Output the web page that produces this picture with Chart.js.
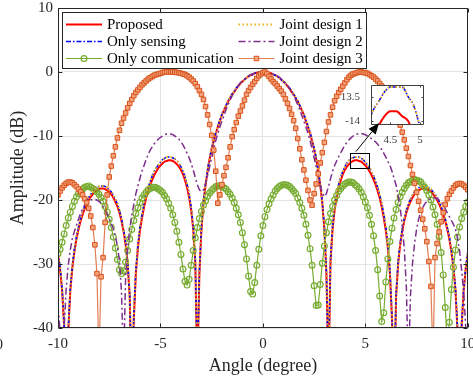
<!DOCTYPE html>
<html lang="en">
<head>
  <meta charset="UTF-8">
  <meta name="viewport" content="width=device-width, initial-scale=1.0">
  <title>Beampattern comparison</title>
  <style>
    body {
      margin: 0;
      background: #fff;
    }

    .wrap {
      position: relative;
      width: 473px;
      height: 381px;
      overflow: hidden;
    }

    #main {
      position: absolute;
      left: 0;
      top: 0;
    }

    /* zoomed inset sits over the main plot */
    #inset {
      position: absolute;
      left: 340px;
      top: 78px;
    }
  </style>
</head>
<body>
  <div class="wrap">
    <canvas id="main" width="473" height="381"></canvas>
    <canvas id="inset" width="90" height="80"></canvas>
  </div>

  <script src="https://cdn.jsdelivr.net/npm/chart.js@4"></script>

  <script>
    // angle grid (degree)
    const angles = [
      -10, -9.9, -9.8, -9.7, -9.6, -9.5, -9.4, -9.3, -9.2, -9.1,
      -9, -8.9, -8.8, -8.7, -8.6, -8.5, -8.4, -8.3, -8.2, -8.1,
      -8, -7.9, -7.8, -7.7, -7.6, -7.5, -7.4, -7.3, -7.2, -7.1,
      -7, -6.9, -6.8, -6.7, -6.6, -6.5, -6.4, -6.3, -6.2, -6.1,
      -6, -5.9, -5.8, -5.7, -5.6, -5.5, -5.4, -5.3, -5.2, -5.1,
      -5, -4.9, -4.8, -4.7, -4.6, -4.5, -4.4, -4.3, -4.2, -4.1,
      -4, -3.9, -3.8, -3.7, -3.6, -3.5, -3.4, -3.3, -3.2, -3.1,
      -3, -2.9, -2.8, -2.7, -2.6, -2.5, -2.4, -2.3, -2.2, -2.1,
      -2, -1.9, -1.8, -1.7, -1.6, -1.5, -1.4, -1.3, -1.2, -1.1,
      -1, -0.9, -0.8, -0.7, -0.6, -0.5, -0.4, -0.3, -0.2, -0.1,
      0, 0.1, 0.2, 0.3, 0.4, 0.5, 0.6, 0.7, 0.8, 0.9,
      1, 1.1, 1.2, 1.3, 1.4, 1.5, 1.6, 1.7, 1.8, 1.9,
      2, 2.1, 2.2, 2.3, 2.4, 2.5, 2.6, 2.7, 2.8, 2.9,
      3, 3.1, 3.2, 3.3, 3.4, 3.5, 3.6, 3.7, 3.8, 3.9,
      4, 4.1, 4.2, 4.3, 4.4, 4.5, 4.6, 4.7, 4.8, 4.9,
      5, 5.1, 5.2, 5.3, 5.4, 5.5, 5.6, 5.7, 5.8, 5.9,
      6, 6.1, 6.2, 6.3, 6.4, 6.5, 6.6, 6.7, 6.8, 6.9,
      7, 7.1, 7.2, 7.3, 7.4, 7.5, 7.6, 7.7, 7.8, 7.9,
      8, 8.1, 8.2, 8.3, 8.4, 8.5, 8.6, 8.7, 8.8, 8.9,
      9, 9.1, 9.2, 9.3, 9.4, 9.5, 9.6, 9.7, 9.8, 9.9, 10
    ];

    // amplitude (dB), one value per angle
    const proposed = [
      -28.5, -30.8, -34.1, -39.7, -60.0, -40.6, -34.2, -30.6, -28.1, -26.1,
      -24.6, -23.3, -22.3, -21.4, -20.6, -20.0, -19.5, -19.1, -18.7, -18.5,
      -18.3, -18.2, -18.2, -18.3, -18.5, -18.8, -19.1, -19.6, -20.3, -21.0,
      -22.0, -23.3, -24.9, -27.0, -30.0, -35.1, -51.0, -38.7, -31.5, -27.5,
      -24.8, -22.8, -21.1, -19.7, -18.6, -17.6, -16.8, -16.1, -15.5, -15.0,
      -14.6, -14.3, -14.0, -13.9, -13.8, -13.8, -13.9, -14.1, -14.4, -14.8,
      -15.3, -16.0, -16.9, -18.1, -19.6, -21.6, -24.6, -29.7, -47.0, -31.6,
      -24.6, -20.5, -17.7, -15.5, -13.6, -12.1, -10.8, -9.6, -8.6, -7.7,
      -6.7, -6.0, -5.3, -4.6, -4.1, -3.5, -3.1, -2.6, -2.2, -1.8,
      -1.5, -1.2, -0.9, -0.7, -0.5, -0.4, -0.2, -0.1, -0.1, 0.0,
      0.0, 0.0, -0.1, -0.1, -0.2, -0.4, -0.5, -0.7, -0.9, -1.2,
      -1.5, -1.8, -2.2, -2.6, -3.1, -3.5, -4.1, -4.6, -5.3, -6.0,
      -6.7, -7.7, -8.6, -9.6, -10.8, -12.1, -13.6, -15.5, -17.7, -20.5,
      -24.6, -31.6, -47.0, -29.7, -24.6, -21.6, -19.6, -18.1, -16.9, -16.0,
      -15.3, -14.8, -14.4, -14.1, -13.9, -13.8, -13.8, -13.9, -14.0, -14.3,
      -14.6, -15.0, -15.5, -16.1, -16.8, -17.6, -18.6, -19.7, -21.1, -22.8,
      -24.8, -27.5, -31.5, -38.7, -51.0, -35.1, -30.0, -27.0, -24.9, -23.3,
      -22.0, -21.0, -20.3, -19.6, -19.1, -18.8, -18.5, -18.3, -18.2, -18.2,
      -18.3, -18.5, -18.7, -19.1, -19.5, -20.0, -20.6, -21.4, -22.3, -23.3,
      -24.6, -26.1, -28.1, -30.6, -34.2, -40.6, -60.0, -39.7, -34.1, -30.8, -28.5
    ];

    const onlySensing = [
      -28.1, -30.4, -33.7, -39.3, -60.0, -40.2, -33.8, -30.2, -27.7, -25.7,
      -24.2, -22.9, -21.9, -21.0, -20.2, -19.6, -19.1, -18.7, -18.3, -18.1,
      -17.9, -17.8, -17.8, -17.9, -18.1, -18.4, -18.7, -19.2, -19.9, -20.6,
      -21.6, -22.9, -24.5, -26.6, -29.6, -34.7, -50.0, -38.0, -30.9, -26.9,
      -24.2, -22.2, -20.5, -19.2, -18.0, -17.1, -16.2, -15.5, -15.0, -14.5,
      -14.1, -13.7, -13.5, -13.3, -13.3, -13.3, -13.4, -13.6, -13.8, -14.2,
      -14.8, -15.5, -16.4, -17.5, -19.0, -21.1, -24.0, -29.2, -46.4, -31.3,
      -24.3, -20.3, -17.5, -15.3, -13.4, -11.9, -10.6, -9.4, -8.4, -7.5,
      -6.6, -5.9, -5.2, -4.5, -4.0, -3.4, -3.0, -2.5, -2.1, -1.8,
      -1.5, -1.2, -0.9, -0.7, -0.5, -0.4, -0.2, -0.1, -0.1, 0.0,
      0.0, 0.0, -0.1, -0.1, -0.2, -0.4, -0.5, -0.7, -0.9, -1.2,
      -1.5, -1.8, -2.1, -2.5, -3.0, -3.4, -4.0, -4.5, -5.2, -5.9,
      -6.6, -7.5, -8.4, -9.4, -10.6, -11.9, -13.4, -15.3, -17.5, -20.3,
      -24.3, -31.3, -46.4, -29.2, -24.0, -21.1, -19.0, -17.5, -16.4, -15.5,
      -14.8, -14.2, -13.8, -13.6, -13.4, -13.3, -13.3, -13.3, -13.5, -13.7,
      -14.1, -14.5, -15.0, -15.5, -16.2, -17.1, -18.0, -19.2, -20.5, -22.2,
      -24.2, -26.9, -30.9, -38.0, -50.0, -34.7, -29.6, -26.6, -24.5, -22.9,
      -21.6, -20.6, -19.9, -19.2, -18.7, -18.4, -18.1, -17.9, -17.8, -17.8,
      -17.9, -18.1, -18.3, -18.7, -19.1, -19.6, -20.2, -21.0, -21.9, -22.9,
      -24.2, -25.7, -27.7, -30.2, -33.8, -40.2, -60.0, -39.3, -33.7, -30.4, -28.1
    ];

    const onlyCommunication = [
      -28.4, -27.7, -26.6, -25.3, -24.0, -22.8, -21.9, -21.0, -20.2, -19.5,
      -19.0, -18.6, -18.3, -18.0, -17.9, -17.8, -18.0, -18.2, -18.4, -18.7,
      -19.1, -19.6, -20.2, -21.0, -21.9, -23.0, -24.3, -25.8, -27.5, -29.3,
      -30.9, -31.5, -31.1, -29.7, -27.9, -26.1, -24.6, -23.2, -22.1, -21.2,
      -20.4, -19.7, -19.2, -18.8, -18.4, -18.2, -18.0, -18.0, -18.1, -18.3,
      -18.5, -18.8, -19.3, -19.8, -20.5, -21.3, -22.3, -23.5, -24.9, -26.6,
      -28.5, -30.8, -32.7, -33.3, -32.4, -30.2, -27.9, -25.9, -24.3, -22.9,
      -21.8, -20.8, -20.1, -19.4, -18.9, -18.5, -18.2, -17.9, -17.8, -17.8,
      -17.9, -18.1, -18.3, -18.7, -19.1, -19.7, -20.4, -21.3, -22.3, -23.5,
      -25.1, -27.0, -29.2, -31.9, -34.3, -34.7, -32.9, -30.2, -27.7, -25.6,
      -24.0, -22.6, -21.5, -20.6, -19.8, -19.2, -18.6, -18.2, -17.9, -17.7,
      -17.6, -17.6, -17.7, -17.9, -18.2, -18.6, -19.0, -19.7, -20.4, -21.3,
      -22.4, -23.8, -25.5, -27.6, -30.2, -33.4, -36.5, -36.4, -33.2, -29.9,
      -27.2, -25.1, -23.4, -22.1, -21.0, -20.0, -19.3, -18.6, -18.2, -17.8,
      -17.5, -17.3, -17.2, -17.2, -17.3, -17.6, -17.9, -18.3, -18.8, -19.5,
      -20.3, -21.2, -22.4, -23.8, -25.6, -27.9, -30.9, -35.0, -39.0, -37.6,
      -32.8, -29.2, -26.5, -24.4, -22.8, -21.5, -20.4, -19.5, -18.8, -18.2,
      -17.7, -17.3, -17.1, -16.9, -16.8, -16.9, -17.0, -17.2, -17.6, -18.0,
      -18.5, -19.2, -20.0, -21.1, -22.3, -23.8, -25.7, -28.2, -31.7, -36.8,
      -42.5, -39.1, -34.0, -30.5, -27.8, -25.8, -24.2, -22.9, -21.9, -21.0, -20.3
    ];

    const jointDesign1 = [
      -28.1, -30.4, -33.7, -39.3, -60.0, -40.2, -33.8, -30.2, -27.7, -25.7,
      -24.2, -22.9, -21.9, -21.0, -20.2, -19.6, -19.1, -18.7, -18.3, -18.1,
      -17.9, -17.8, -17.8, -17.9, -18.1, -18.4, -18.7, -19.2, -19.9, -20.6,
      -21.6, -22.9, -24.5, -26.6, -29.6, -34.7, -50.0, -38.0, -30.9, -26.9,
      -24.2, -22.2, -20.5, -19.2, -18.0, -17.1, -16.2, -15.5, -15.0, -14.5,
      -14.1, -13.7, -13.5, -13.3, -13.3, -13.3, -13.4, -13.6, -13.8, -14.2,
      -14.8, -15.5, -16.4, -17.5, -19.0, -21.1, -24.0, -29.2, -46.4, -31.3,
      -24.3, -20.3, -17.5, -15.3, -13.4, -11.9, -10.6, -9.4, -8.4, -7.5,
      -6.6, -5.9, -5.2, -4.5, -4.0, -3.4, -3.0, -2.5, -2.1, -1.8,
      -1.5, -1.2, -0.9, -0.7, -0.5, -0.4, -0.2, -0.1, -0.1, 0.0,
      0.0, 0.0, -0.1, -0.1, -0.2, -0.4, -0.5, -0.7, -0.9, -1.2,
      -1.5, -1.8, -2.1, -2.5, -3.0, -3.4, -4.0, -4.5, -5.2, -5.9,
      -6.6, -7.5, -8.4, -9.4, -10.6, -11.9, -13.4, -15.3, -17.5, -20.3,
      -24.3, -31.3, -46.4, -29.2, -24.0, -21.1, -19.0, -17.5, -16.4, -15.5,
      -14.8, -14.2, -13.8, -13.6, -13.4, -13.3, -13.3, -13.3, -13.5, -13.7,
      -14.1, -14.5, -15.0, -15.5, -16.2, -17.1, -18.0, -19.2, -20.5, -22.2,
      -24.2, -26.9, -30.9, -38.0, -50.0, -34.7, -29.6, -26.6, -24.5, -22.9,
      -21.6, -20.6, -19.9, -19.2, -18.7, -18.4, -18.1, -17.9, -17.8, -17.8,
      -17.9, -18.1, -18.3, -18.7, -19.1, -19.6, -20.2, -21.0, -21.9, -22.9,
      -24.2, -25.7, -27.7, -30.2, -33.8, -40.2, -60.0, -39.3, -33.7, -30.4, -28.1
    ];

    const jointDesign2 = [
      -36.5, -40.5, -45.0, -40.0, -33.8, -30.2, -27.8, -26.0, -24.9, -24.0,
      -23.0, -22.1, -21.4, -20.8, -20.4, -20.2, -20.0, -19.9, -19.9, -20.0,
      -20.2, -20.5, -21.0, -21.6, -22.2, -22.9, -23.7, -24.5, -25.6, -27.2,
      -29.5, -34.5, -46.0, -32.0, -27.5, -24.6, -22.4, -20.7, -19.0, -17.8,
      -16.6, -15.5, -14.6, -13.7, -12.9, -12.2, -11.7, -11.2, -10.8, -10.5,
      -10.2, -10.0, -9.8, -9.7, -9.7, -9.7, -9.8, -10.0, -10.2, -10.5,
      -10.9, -11.4, -12.0, -12.7, -13.4, -14.3, -15.3, -16.5, -17.6, -18.4,
      -18.7, -18.4, -17.5, -16.2, -14.8, -13.4, -12.0, -10.7, -9.6, -8.6,
      -7.7, -6.8, -5.9, -5.1, -4.4, -3.7, -3.1, -2.6, -2.1, -1.7,
      -1.4, -1.1, -0.8, -0.6, -0.4, -0.3, -0.2, -0.1, 0.0, 0.0,
      0.0, 0.0, 0.0, -0.1, -0.2, -0.3, -0.4, -0.6, -0.8, -1.1,
      -1.4, -1.7, -2.1, -2.6, -3.1, -3.7, -4.4, -5.1, -5.9, -6.8,
      -7.7, -8.6, -9.6, -10.7, -12.0, -13.4, -14.8, -16.3, -17.7, -18.9,
      -19.5, -19.0, -17.9, -16.7, -15.5, -14.6, -13.9, -13.2, -12.6, -12.0,
      -11.4, -11.0, -10.6, -10.3, -10.0, -9.8, -9.7, -9.6, -9.6, -9.7,
      -9.8, -10.0, -10.2, -10.4, -10.7, -10.9, -11.3, -11.7, -12.1, -12.7,
      -13.3, -14.0, -14.6, -15.5, -16.6, -17.7, -19.3, -21.2, -24.0, -27.6,
      -33.5, -47.0, -35.0, -30.0, -26.8, -24.6, -23.0, -22.0, -21.2, -20.6,
      -20.2, -19.9, -19.8, -19.7, -19.7, -19.8, -20.0, -20.3, -20.8, -21.4,
      -22.0, -22.6, -23.2, -23.8, -24.6, -26.0, -28.0, -31.0, -34.5, -40.0, -47.0
    ];

    const jointDesign3 = [
      -19.2, -18.6, -18.1, -17.7, -17.4, -17.2, -17.2, -17.3, -17.6, -17.9,
      -18.3, -18.7, -19.2, -19.8, -20.4, -21.3, -22.5, -24.3, -27.0, -31.5,
      -45.0, -32.0, -29.0, -23.5, -19.2, -16.4, -14.7, -13.1, -11.7, -10.3,
      -9.1, -8.0, -7.2, -6.4, -5.6, -4.9, -4.3, -3.7, -3.2, -2.8,
      -2.4, -2.0, -1.7, -1.4, -1.1, -0.9, -0.7, -0.5, -0.4, -0.3,
      -0.2, -0.1, 0.0, 0.0, 0.0, 0.0, 0.0, 0.0, -0.1, -0.1,
      -0.2, -0.3, -0.4, -0.6, -0.8, -1.1, -1.4, -1.8, -2.3, -2.9,
      -3.5, -4.3, -5.4, -6.7, -8.2, -9.9, -12.2, -15.5, -20.5, -19.2,
      -17.6, -16.2, -14.9, -13.4, -11.7, -10.1, -9.0, -7.9, -6.9, -6.1,
      -5.3, -4.4, -3.5, -2.9, -2.4, -1.9, -1.5, -1.0, -0.6, -0.3,
      -0.1, 0.0, -0.3, -0.7, -1.1, -1.5, -1.8, -2.2, -2.6, -3.0,
      -3.5, -4.2, -4.9, -5.7, -6.6, -7.6, -8.8, -10.4, -12.0, -13.7,
      -15.3, -16.9, -18.5, -20.0, -20.8, -19.0, -17.5, -15.9, -14.2, -12.6,
      -11.0, -9.3, -7.8, -6.7, -5.5, -4.5, -3.8, -3.2, -2.7, -2.2,
      -1.7, -1.2, -0.8, -0.5, -0.3, -0.2, -0.1, 0.0, 0.0, -0.1,
      -0.1, -0.2, -0.4, -0.6, -0.8, -1.1, -1.4, -1.8, -2.2, -2.7,
      -3.2, -3.7, -4.3, -4.9, -5.6, -6.4, -7.3, -8.3, -9.4, -10.6,
      -11.9, -13.2, -14.6, -16.0, -17.4, -18.8, -20.2, -21.6, -23.0, -24.5,
      -26.5, -29.6, -33.5, -45.0, -29.0, -26.8, -25.0, -23.4, -22.0, -20.7,
      -19.8, -19.1, -18.6, -18.1, -17.7, -17.5, -17.4, -17.5, -17.7, -18.0, -18.4
    ];

    const seriesNames = ['Proposed', 'Only sensing', 'Only communication', 'Joint design 1', 'Joint design 2', 'Joint design 3'];
    const seriesValues = [proposed, onlySensing, onlyCommunication, jointDesign1, jointDesign2, jointDesign3];

    const xTicksMain = { min: -10, max: 10, step: 5 };
    const yTicksMain = { min: -40, max: 10, step: 10 };
    const insetXTicks = [4.5, 5];
    const insetYTicks = [-14, -13.5];

    // annotation geometry in data units of the main axes
    const zoomRect = { x: [4.24, 5.18], y: [-12.6, -15.05] };
    const zoomArrow = { from: [4.535, -12.45], to: [5.67, -7.97] };

    const serif = '"Liberation Serif", "Times New Roman", serif';
    const axisColor = '#262626';

    // look of each curve (MATLAB-like)
    const seriesStyle = {
      'Proposed': { borderColor: '#ff0000', borderWidth: 2, borderDash: [], order: 6 },
      'Only sensing': { borderColor: '#0000ff', borderWidth: 1.5, borderDash: [5, 2, 1.5, 2], order: 5 },
      'Only communication': {
        borderColor: '#77ac30', borderWidth: 1.2, borderDash: [],
        pointStyle: 'circle', pointRadius: 2.9, pointBorderWidth: 1.2,
        pointBackgroundColor: 'rgba(255,255,255,0)', pointBorderColor: '#77ac30', order: 4
      },
      'Joint design 1': { borderColor: '#edb120', borderWidth: 2, borderDash: [1.5, 2.5], order: 3 },
      'Joint design 2': { borderColor: '#7e2f8e', borderWidth: 1.5, borderDash: [7, 3, 2, 3], order: 2 },
      'Joint design 3': {
        borderColor: 'rgba(217,83,25,0.75)', borderWidth: 1.2, borderDash: [],
        pointStyle: 'rect', pointRadius: 3.2, pointBorderWidth: 1,
        pointBackgroundColor: '#f2a27e', pointBorderColor: '#d95319', order: 1
      }
    };

    function makeDatasets(smooth) {
      return seriesNames.map((name, i) => Object.assign({
        label: name,
        data: seriesValues[i],
        fill: false,
        pointRadius: 0,
        tension: 0,
        cubicInterpolationMode: smooth ? 'monotone' : 'default'
      }, seriesStyle[name]));
    }

    // box round the plot area with inward ticks on all four sides
    const frame = {
      id: 'frame',
      beforeDraw(chart, args, opts) {
        if (!opts.fill) return;
        const a = chart.chartArea;
        const ctx = chart.ctx;
        ctx.save();
        ctx.fillStyle = opts.fill;
        ctx.fillRect(a.left, a.top, a.right - a.left, a.bottom - a.top);
        ctx.restore();
      },
      afterDatasetsDraw(chart, args, opts) {
        const { ctx, chartArea: a, scales: { x, y } } = chart;
        const L = Math.round(a.left) + 0.5;
        const R = Math.round(a.right) - 0.5;
        const T = Math.round(a.top) + 0.5;
        const B = Math.round(a.bottom) - 0.5;
        const len = opts.tick;
        ctx.save();
        ctx.strokeStyle = opts.color;
        ctx.lineWidth = 1;
        ctx.beginPath();
        ctx.rect(L, T, R - L, B - T);
        x.ticks.forEach(t => {
          const px = Math.round(x.getPixelForValue(t.value)) + 0.5;
          ctx.moveTo(px, B); ctx.lineTo(px, B - len);
          ctx.moveTo(px, T); ctx.lineTo(px, T + len);
        });
        y.ticks.forEach(t => {
          const py = Math.round(y.getPixelForValue(t.value)) + 0.5;
          ctx.moveTo(L, py); ctx.lineTo(L + len, py);
          ctx.moveTo(R, py); ctx.lineTo(R - len, py);
        });
        ctx.stroke();
        ctx.restore();
      }
    };

    // zoom rectangle on the main plot
    const zoomBox = {
      id: 'zoomBox',
      afterDatasetsDraw(chart) {
        const { ctx, scales: { x, y } } = chart;
        const x0 = Math.round(x.getPixelForValue(zoomRect.x[0])) + 0.5;
        const x1 = Math.round(x.getPixelForValue(zoomRect.x[1])) + 0.5;
        const y0 = Math.round(y.getPixelForValue(zoomRect.y[0])) + 0.5;
        const y1 = Math.round(y.getPixelForValue(zoomRect.y[1])) + 0.5;
        ctx.save();
        ctx.strokeStyle = '#000';
        ctx.lineWidth = 1;
        ctx.strokeRect(x0, y0, x1 - x0, y1 - y0);
        ctx.restore();
      }
    };

    // two-column legend, read from the datasets
    const legendCols = [66, 238.5];
    const legendRows = [24.5, 41.5, 58.5];
    const legendBox = {
      id: 'legendBox',
      afterDraw(chart) {
        const ctx = chart.ctx;
        ctx.save();
        ctx.fillStyle = '#fff';
        ctx.fillRect(62, 12, 304, 56);
        ctx.strokeStyle = axisColor;
        ctx.lineWidth = 1;
        ctx.strokeRect(62.5, 12.5, 304, 56);
        ctx.font = '15px ' + serif;
        ctx.textBaseline = 'middle';
        ctx.textAlign = 'left';
        chart.data.datasets.forEach((ds, i) => {
          const x0 = legendCols[Math.floor(i / 3)];
          const y0 = legendRows[i % 3];
          ctx.strokeStyle = ds.borderColor;
          ctx.lineWidth = ds.borderWidth;
          ctx.setLineDash(ds.borderDash || []);
          ctx.beginPath();
          ctx.moveTo(x0, y0);
          ctx.lineTo(x0 + 36, y0);
          ctx.stroke();
          ctx.setLineDash([]);
          if (ds.pointRadius) {
            const cx = x0 + 18;
            const r = ds.pointRadius;
            ctx.lineWidth = ds.pointBorderWidth;
            ctx.strokeStyle = ds.pointBorderColor;
            ctx.fillStyle = ds.pointBackgroundColor;
            ctx.beginPath();
            if (ds.pointStyle === 'rect') {
              const s = r * Math.SQRT1_2;
              ctx.rect(cx - s, y0 - s, 2 * s, 2 * s);
            } else {
              ctx.arc(cx, y0, r, 0, Math.PI * 2);
            }
            ctx.fill();
            ctx.stroke();
          }
          ctx.fillStyle = '#000';
          ctx.fillText(ds.label, x0 + 41, y0 + 1);
        });
        // cut-off tick label of the neighbouring panel at the left edge
        ctx.fillStyle = axisColor;
        ctx.textAlign = 'right';
        ctx.fillText('10', 3, 345);
        ctx.restore();
      }
    };

    const mainChart = new Chart(document.getElementById('main'), {
      type: 'line',
      data: { labels: angles, datasets: makeDatasets(false) },
      options: {
        responsive: false,
        animation: false,
        devicePixelRatio: 1,
        layout: { padding: { left: 0, top: 8, right: 4, bottom: 0 } },
        plugins: {
          legend: { display: false },
          tooltip: { enabled: false },
          frame: { color: axisColor, tick: 4 }
        },
        scales: {
          x: {
            type: 'linear',
            min: xTicksMain.min,
            max: xTicksMain.max,
            ticks: {
              stepSize: xTicksMain.step,
              font: { family: serif, size: 15 },
              color: axisColor,
              padding: 7,
              maxRotation: 0,
              autoSkip: false
            },
            grid: { color: '#e4e4e4', drawTicks: false },
            border: { display: false },
            title: {
              display: true,
              text: 'Angle (degree)',
              font: { family: serif, size: 18 },
              color: axisColor,
              padding: { top: 0, bottom: 4 }
            },
            afterFit: s => { s.height = 53; s.paddingLeft = 0; s.paddingRight = 0; }
          },
          y: {
            min: yTicksMain.min,
            max: yTicksMain.max,
            ticks: {
              stepSize: yTicksMain.step,
              font: { family: serif, size: 15 },
              color: axisColor,
              padding: 5
            },
            grid: { color: '#e4e4e4', drawTicks: false },
            border: { display: false },
            title: {
              display: true,
              text: 'Amplitude (dB)',
              font: { family: serif, size: 18 },
              color: axisColor,
              padding: { top: 7, bottom: 0 }
            },
            afterFit: s => { s.width = 58; s.paddingTop = 0; s.paddingBottom = 0; }
          }
        }
      },
      plugins: [frame, zoomBox, legendBox]
    });

    // arrow from the zoom rectangle into the inset
    const insetOffset = { left: 340, top: 78 };
    const arrow = {
      id: 'arrow',
      afterDraw(chart) {
        const ctx = chart.ctx;
        const mx = mainChart.scales.x;
        const my = mainChart.scales.y;
        const sx = mx.getPixelForValue(zoomArrow.from[0]) - insetOffset.left;
        const sy = my.getPixelForValue(zoomArrow.from[1]) - insetOffset.top;
        const tx = mx.getPixelForValue(zoomArrow.to[0]) - insetOffset.left;
        const ty = my.getPixelForValue(zoomArrow.to[1]) - insetOffset.top;
        const ang = Math.atan2(ty - sy, tx - sx);
        const headLen = 11;
        const headHalf = 4.5;
        const bx = tx - headLen * Math.cos(ang);
        const by = ty - headLen * Math.sin(ang);
        ctx.save();
        ctx.strokeStyle = '#000';
        ctx.fillStyle = '#000';
        ctx.lineWidth = 1;
        ctx.beginPath();
        ctx.moveTo(sx, sy);
        ctx.lineTo(bx, by);
        ctx.stroke();
        ctx.beginPath();
        ctx.moveTo(tx, ty);
        ctx.lineTo(bx + headHalf * Math.sin(ang), by - headHalf * Math.cos(ang));
        ctx.lineTo(bx - headHalf * Math.sin(ang), by + headHalf * Math.cos(ang));
        ctx.closePath();
        ctx.fill();
        ctx.restore();
      }
    };

    new Chart(document.getElementById('inset'), {
      type: 'line',
      data: { labels: angles, datasets: makeDatasets(true) },
      options: {
        responsive: false,
        animation: false,
        devicePixelRatio: 1,
        layout: { padding: { left: 0, top: 7, right: 6, bottom: 0 } },
        plugins: {
          legend: { display: false },
          tooltip: { enabled: false },
          frame: { color: '#404040', tick: 2, fill: '#fff' }
        },
        scales: {
          x: {
            type: 'linear',
            min: 4.17,
            max: 5.07,
            afterBuildTicks: s => { s.ticks = insetXTicks.map(v => ({ value: v })); },
            ticks: {
              font: { family: serif, size: 11 },
              color: '#404040',
              padding: 1,
              maxRotation: 0,
              autoSkip: false,
              callback: v => String(v)
            },
            grid: { display: false },
            border: { display: false },
            afterFit: s => { s.height = 33; s.paddingLeft = 0; s.paddingRight = 0; }
          },
          y: {
            min: -14.08,
            max: -13.26,
            afterBuildTicks: s => { s.ticks = insetYTicks.map(v => ({ value: v })); },
            ticks: {
              font: { family: serif, size: 11 },
              color: '#404040',
              padding: 3,
              callback: v => String(v)
            },
            grid: { display: false },
            border: { display: false },
            afterFit: s => { s.width = 31; s.paddingTop = 0; s.paddingBottom = 0; }
          }
        }
      },
      plugins: [frame, arrow]
    });
  </script>
</body>
</html>
